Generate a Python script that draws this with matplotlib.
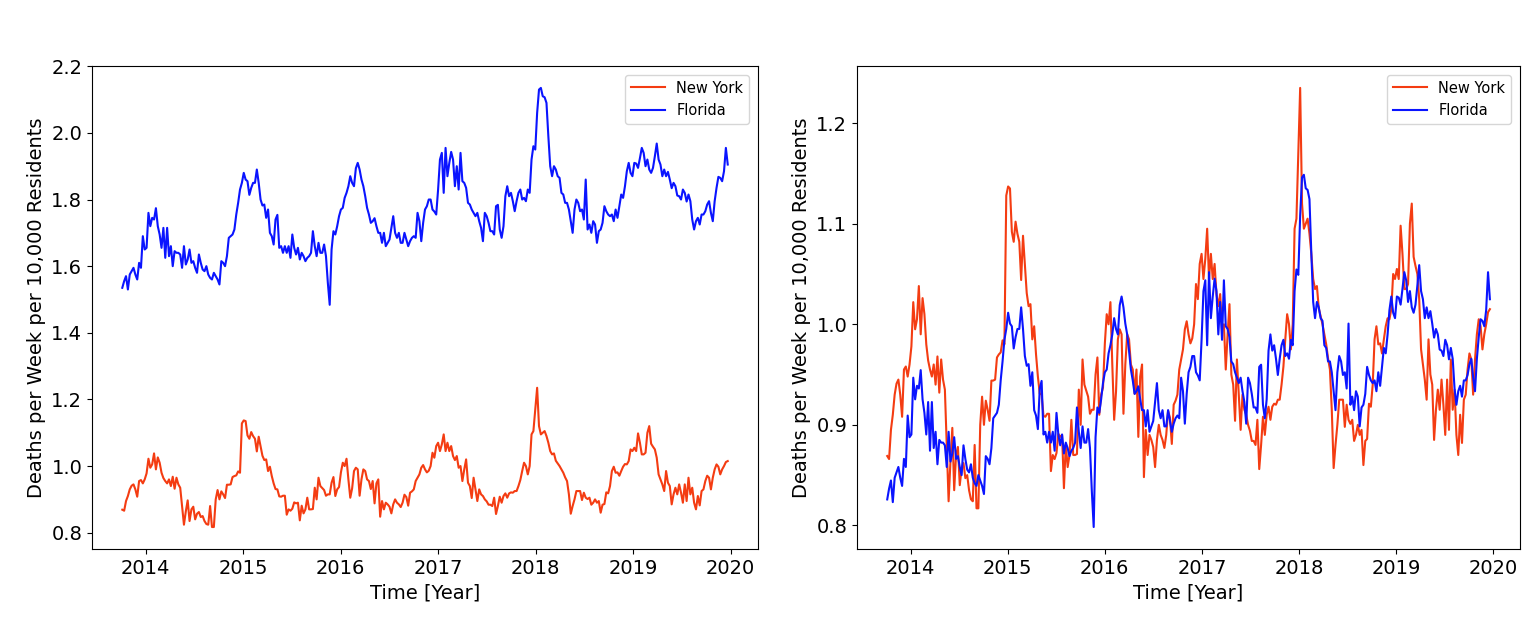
import numpy as np
import pandas as pd
import matplotlib
matplotlib.use("Agg")
import matplotlib.pyplot as plt

# weekly deaths per 10,000 residents, Oct 2013 - Dec 2019
weeks = pd.date_range("2013-10-05", periods=325, freq="7D")

new_york = [
    0.869, 0.866, 0.895, 0.91, 0.93, 0.941, 0.945, 0.93, 0.908, 0.955,
    0.958, 0.948, 0.96, 0.978, 1.022, 0.995, 1.005, 1.038, 0.99, 1.026,
    1.01, 0.98, 0.964, 0.955, 0.948, 0.96, 0.94, 0.968, 0.932, 0.965,
    0.945, 0.935, 0.88, 0.824, 0.864, 0.897, 0.835, 0.87, 0.878, 0.84,
    0.857, 0.862, 0.847, 0.85, 0.835, 0.826, 0.824, 0.88, 0.817, 0.817,
    0.9, 0.928, 0.9, 0.924, 0.915, 0.904, 0.944, 0.944, 0.945, 0.967,
    0.97, 0.972, 0.984, 0.98, 1.128, 1.137, 1.135, 1.092, 1.082, 1.102,
    1.09, 1.082, 1.044, 1.088, 1.06, 1.031, 1.018, 1.02, 0.985, 0.998,
    0.97, 0.948,
    0.931, 0.93, 0.909, 0.908, 0.911, 0.911, 0.854, 0.870,
    0.866, 0.872, 0.891, 0.888, 0.89, 0.837, 0.881, 0.858, 0.87, 0.905,
    0.87, 0.87, 0.871, 0.935, 0.90, 0.965, 0.94, 0.934, 0.928, 0.911,
    0.915, 0.915, 0.95, 0.967, 0.91, 0.93, 0.937, 0.981, 1.01, 1.00,
    1.022, 0.96, 0.905, 0.933, 0.985, 0.995, 0.99, 0.911, 0.96, 0.99,
    0.985, 0.96, 0.955, 0.931, 0.955, 0.888, 0.948, 0.96, 0.848, 0.895,
    0.870, 0.890, 0.885, 0.878, 0.858, 0.885, 0.90, 0.89, 0.885, 0.877,
    0.89, 0.914, 0.907, 0.881, 0.92, 0.924, 0.93, 0.955, 0.965, 0.975,
    0.995, 1.003,
    0.99, 0.981, 0.986, 1.00, 1.04, 1.025, 1.06, 1.07,
    1.045, 1.065, 1.095, 1.045, 1.07, 1.045, 1.06, 1.03, 1.018, 1.03,
    0.995, 1.00, 0.955, 0.99, 1.02, 0.95, 0.94, 0.904, 0.965, 0.93,
    0.895, 0.93, 0.915, 0.91, 0.90, 0.894, 0.884, 0.884, 0.88, 0.905,
    0.856, 0.88, 0.908, 0.89, 0.91, 0.918, 0.905, 0.918, 0.921, 0.920,
    0.925, 0.925, 0.94, 0.958, 0.985, 1.01, 1.00, 0.975, 1.00, 1.095,
    1.105, 1.17, 1.235, 1.12, 1.095, 1.10, 1.105, 1.09, 1.07, 1.045,
    1.035, 1.038, 1.016, 1.008, 1.0, 0.99, 0.98, 0.966, 0.955, 0.915,
    0.857, 0.88, 0.90, 0.925,
    0.925, 0.925, 0.898, 0.92, 0.905, 0.901,
    0.905, 0.884, 0.89, 0.9, 0.89, 0.895, 0.86, 0.884, 0.886, 0.921,
    0.918, 0.94, 0.985, 0.998, 0.98, 0.981, 0.971, 0.985, 0.998, 1.006,
    1.005, 1.015, 1.05, 1.045, 1.055, 1.045, 1.098, 1.07, 1.035, 1.035,
    1.04, 1.10, 1.12, 1.067, 1.058, 1.05, 1.025, 0.975, 0.96, 0.945,
    0.925, 0.985, 0.95, 0.94, 0.885, 0.915, 0.935, 0.915, 0.945, 0.92,
    0.89, 0.945, 0.895, 0.965, 0.915, 0.935, 0.89, 0.87, 0.91, 0.882,
    0.925, 0.93, 0.955, 0.971, 0.965, 0.93, 0.965, 0.99, 1.005, 0.998,
    0.975, 0.99, 1.0, 1.012, 1.015,
]

florida = [
    1.535, 1.555, 1.57, 1.53, 1.575, 1.585, 1.595, 1.575, 1.56, 1.61,
    1.595, 1.69, 1.65, 1.655, 1.76, 1.72, 1.745, 1.74, 1.774, 1.72,
    1.695, 1.655, 1.715, 1.625, 1.715, 1.63, 1.66, 1.6, 1.645, 1.64,
    1.64, 1.635, 1.595, 1.66, 1.605, 1.62, 1.65, 1.61, 1.615, 1.595,
    1.58, 1.635, 1.61, 1.59, 1.585, 1.6, 1.575, 1.565, 1.56, 1.58,
    1.57, 1.56, 1.545, 1.615, 1.61, 1.6, 1.63, 1.685, 1.69, 1.695,
    1.71, 1.755, 1.79, 1.83, 1.85, 1.88, 1.86, 1.855, 1.814, 1.835,
    1.85, 1.85, 1.89, 1.85, 1.80, 1.782, 1.785, 1.745, 1.77, 1.70,
    1.69, 1.665, 1.74, 1.754, 1.655, 1.66, 1.64, 1.66, 1.64, 1.66,
    1.625, 1.695, 1.655, 1.635, 1.655, 1.62, 1.64, 1.63, 1.615, 1.625,
    1.63, 1.64, 1.705, 1.66, 1.63, 1.67, 1.64, 1.64, 1.665, 1.63,
    1.55, 1.484, 1.65, 1.705, 1.695, 1.72, 1.75, 1.77, 1.775, 1.805,
    1.82, 1.84, 1.87,
    1.85, 1.84, 1.894, 1.91, 1.89, 1.86, 1.84,
    1.81, 1.775, 1.755, 1.73, 1.735, 1.744, 1.72, 1.70, 1.70, 1.67,
    1.70, 1.66, 1.67, 1.68, 1.715, 1.75, 1.70, 1.685, 1.70, 1.67,
    1.67, 1.70, 1.68, 1.66, 1.675, 1.685, 1.69, 1.685, 1.76, 1.735,
    1.675, 1.73, 1.77, 1.78, 1.80, 1.80, 1.77, 1.764, 1.755, 1.83,
    1.92, 1.94, 1.82, 1.955, 1.87, 1.91, 1.943, 1.92, 1.84, 1.90,
    1.83, 1.94, 1.855, 1.85, 1.835, 1.79, 1.785, 1.77, 1.76, 1.75,
    1.76, 1.735, 1.715, 1.675, 1.76, 1.75, 1.73, 1.705, 1.705, 1.695,
    1.78, 1.784, 1.71, 1.685, 1.72, 1.81, 1.84, 1.81, 1.82, 1.795,
    1.765, 1.795, 1.82, 1.83, 1.80, 1.805, 1.795, 1.83, 1.82, 1.92,
    1.96, 1.95, 2.06, 2.13, 2.135, 2.11, 2.107, 2.09, 1.99, 1.90,
    1.87, 1.90, 1.89, 1.87, 1.865, 1.82, 1.815, 1.79, 1.79, 1.77,
    1.735, 1.70, 1.77, 1.80, 1.79, 1.765,
    1.77, 1.74, 1.86, 1.71,
    1.725, 1.70, 1.735, 1.725, 1.67, 1.705, 1.71, 1.73, 1.78, 1.765,
    1.755, 1.75, 1.755, 1.735, 1.77, 1.745, 1.78, 1.815, 1.805, 1.84,
    1.885, 1.91, 1.88, 1.87, 1.91, 1.908, 1.895, 1.924, 1.955, 1.94,
    1.90, 1.92, 1.89, 1.88, 1.895, 1.93, 1.968, 1.92, 1.905, 1.87,
    1.89, 1.87, 1.883, 1.86, 1.834, 1.85, 1.84, 1.812, 1.81, 1.80,
    1.83, 1.82, 1.794, 1.815, 1.795, 1.74, 1.71, 1.735, 1.745, 1.725,
    1.755, 1.755, 1.765, 1.785, 1.795, 1.76, 1.735, 1.795, 1.835, 1.868,
    1.865, 1.855, 1.885, 1.955, 1.905,
]

# factor that brings Florida onto New York's level in the second panel
florida_scale = 0.538

ny = np.array(new_york)
fl = np.array(florida)
fl_scaled = fl * florida_scale

red = "#f43c12"
blue = "#0a14ff"

fig = plt.figure(figsize=(15.36, 6.3), dpi=100)
ax1 = fig.add_axes([0.0599, 0.1286, 0.4336, 0.7667])
ax2 = fig.add_axes([0.558, 0.1286, 0.4316, 0.7667])

ax1.plot(weeks, ny, color=red, label="New York")
ax1.plot(weeks, fl, color=blue, label="Florida")

ax2.plot(weeks, ny, color=red, label="New York")
ax2.plot(weeks, fl_scaled, color=blue, label="Florida")

for ax in (ax1, ax2):
    ax.set_xlabel("Time [Year]", fontsize=14)
    ax.set_ylabel("Deaths per Week per 10,000 Residents", fontsize=14)
    ax.tick_params(labelsize=14)
    ax.legend(loc="upper right", fontsize=10.5, handlelength=2.3,
              borderaxespad=0.6)

fig.savefig("out.png", dpi=100)
